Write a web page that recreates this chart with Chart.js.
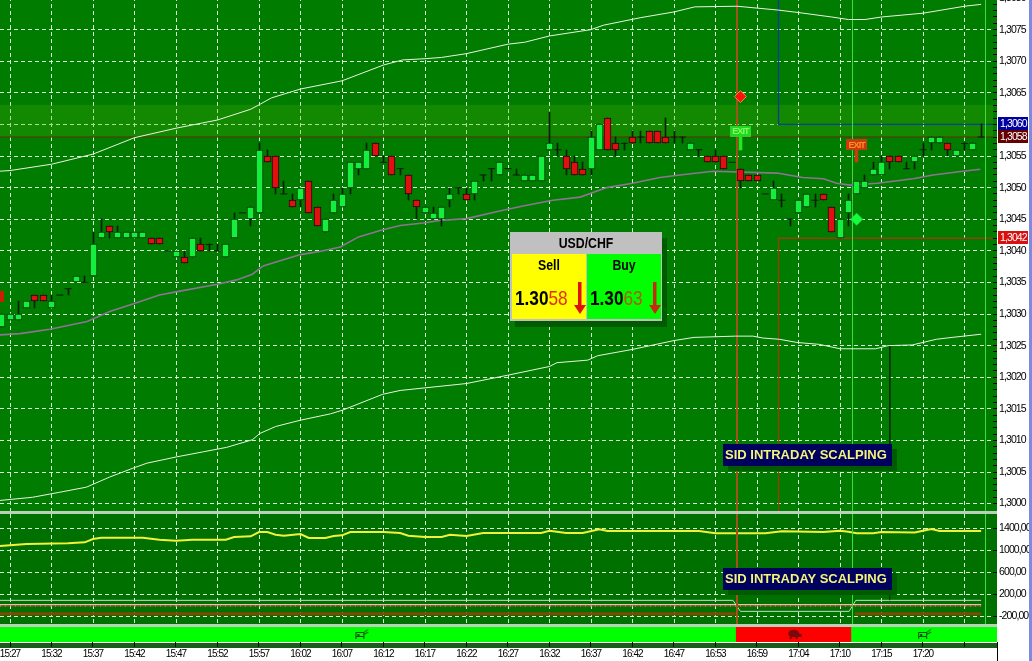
<!DOCTYPE html>
<html>
<head>
<meta charset="utf-8">
<title>USD/CHF</title>
<script src="https://cdn.jsdelivr.net/npm/chart.js@4/dist/chart.umd.min.js"></script>
<style>
html, body { margin: 0; padding: 0; background: #fff; overflow: hidden; }
#page { position: relative; width: 1032px; height: 661px; overflow: hidden; font-family: "Liberation Sans", sans-serif; }
canvas { position: absolute; left: 0; }
#mainChart { top: -10px; background: linear-gradient(to right, #007c00 997px, #fff 997px); }
#lowerChart { top: 514px; background: linear-gradient(to right, #007000 997px, #fff 997px); }
#signalChart { top: 627px; }
.sep { position: absolute; left: 0; width: 997px; height: 3px; background: #b9d0b9; }
#strip { position: absolute; left: 0; top: 643px; width: 997px; height: 5px; background: #1a5c1a; }
#rightLine { position: absolute; left: 997px; top: 642px; width: 1px; height: 19px; background: #000; }
#edge { position: absolute; left: 1029px; top: 0; width: 3px; height: 661px; background: #7f8ade; }
.sid { position: absolute; left: 723px; width: 169px; height: 22px; line-height: 22px; background: #00005e; color: #f4f47a;
  font: bold 13px/22px "Liberation Sans", sans-serif; text-indent: 2px; box-shadow: 5px 5px 0 #005a00; white-space: nowrap; }
#quote { position: absolute; left: 510px; top: 232px; width: 152px; height: 89px; background: #c0c0c0; box-shadow: 5px 6px 0 #005a00; }
#quote .title { position: absolute; left: 0; top: 1px; width: 152px; height: 20px; text-align: center; font: bold 15px/20px "Liberation Sans", sans-serif; color: #000; transform: scaleX(0.82); }
#quote .side { position: absolute; top: 22px; width: 74px; height: 65px; }
#quote .name { position: absolute; left: 0; top: 2px; width: 100%; text-align: center; font: bold 15px/18px "Liberation Sans", sans-serif; color: #000; transform: scaleX(0.82); }
#quote .px { position: absolute; left: 3px; top: 32px; font: bold 21px/24px "Liberation Sans", sans-serif; color: #000; white-space: nowrap; transform: scaleX(0.82); transform-origin: left center; }
#quote .px span { font-weight: normal; color: #e03010; }
#quote svg { position: absolute; left: 62px; top: 27px; }
</style>
</head>
<body>
<div id="page">
  <canvas id="mainChart" width="1032" height="521"></canvas>
  <div class="sep" style="top:511px"></div>
  <canvas id="lowerChart" width="1032" height="110"></canvas>
  <div class="sep" style="top:624px"></div>
  <div id="strip"></div>
  <canvas id="signalChart" width="1032" height="34"></canvas>
  <div id="rightLine"></div>
  <div id="quote">
    <div class="title">USD/CHF</div>
    <div class="side" style="left:2px;background:#ffff00">
      <div class="name">Sell</div>
      <div class="px">1.30<span>58</span></div>
      <svg width="12" height="34"><path d="M4 1h3.5v23H12l-6 9-6-9h4z" fill="#e01010"/></svg>
    </div>
    <div class="side" style="left:77px;background:#00ff00">
      <div class="name">Buy</div>
      <div class="px">1.30<span style="color:#b05a10">63</span></div>
      <svg width="12" height="34"><path d="M4 1h3.5v23H12l-6 9-6-9h4z" fill="#c82a10"/></svg>
    </div>
  </div>
  <div class="sid" style="top:444px">SID INTRADAY SCALPING</div>
  <div class="sid" style="top:568px">SID INTRADAY SCALPING</div>
  <div id="edge"></div>
</div>
<script>
/* ---------------- DATA ---------------- */

// candles, in pips above 1.3000, first candle is bar -1
const firstBar = -1;
const opens = [
    28,29,29,31,33,33,31,33,34,35,
    35,36,42,44,42,42,42,42,42,42,
    40,39,39,39,41,41,40,39,42,46,
    45,46,55,55,49,48,48,51,47,43,
    46,47,50,53,53,57,54,55,53,52,
    48,46,45,45,48,50,49,49,52,53,
    52,53,52,51,51,51,56,56,55,54,
    53,53,56,61,57,57,58,58,59,59,
    58,58,58,56,56,55,55,55,54,53,
    52,52,49,48,48,45,46,47,48,49,
    47,42,46,49,50,52,52,55,55,53,
    54,56,57,57,57,55,57,56,58
];
const highs = [
    30,30,32,32,33,33,33,33,34,36,
    36,43,45,44,44,43,43,43,42,42,
    40,40,40,42,42,41,41,41,46,46,
    47,57,56,55,51,49,50,51,47,45,
    49,50,54,54,57,57,55,55,53,52,
    48,47,47,47,50,50,50,51,52,53,
    54,53,53,52,52,55,62,57,56,55,
    54,59,60,61,58,57,59,59,59,59,
    61,59,58,57,56,55,56,55,54,53,
    52,52,49,51,49,45,48,49,49,49,
    47,45,49,51,52,54,55,55,55,54,
    55,57,58,58,57,56,57,57,60
];
const lows = [
    28,29,29,31,31,32,31,33,33,35,
    35,36,42,42,42,42,42,42,41,41,
    40,39,38,39,40,40,40,39,42,46,
    44,46,54,49,49,47,47,46,44,43,
    46,47,49,52,53,55,54,52,52,48,
    45,46,45,44,47,49,48,48,51,51,
    52,53,52,51,51,51,56,55,52,52,
    52,52,56,56,55,56,57,57,57,57,
    57,57,57,56,55,54,54,53,54,50,
    51,51,49,48,47,44,46,47,47,48,
    43,42,44,49,50,52,52,53,54,53,
    53,55,56,57,55,55,56,56,58
];
const closes = [
    30,30,30,32,32,32,32,33,34,36,
    35,41,43,43,43,43,43,43,41,41,
    40,40,38,42,40,41,40,41,45,46,
    47,56,54,50,49,47,50,46,44,45,
    48,49,54,54,56,55,54,52,53,49,
    47,47,46,47,49,50,48,51,52,53,
    54,53,52,52,52,55,57,56,53,52,
    52,58,60,56,56,57,57,58,57,57,
    57,58,58,57,56,54,54,53,54,51,
    51,51,49,50,48,45,48,49,48,48,
    43,45,48,51,51,53,54,54,54,53,
    55,56,58,58,56,56,57,57,58
];

// upper band
const upperBars = [-1.2,0,5,10,15,20,25,29,30,31.5,35,40,45,47.3,50,52,55,60,62,65,70,71.5,76,80,82.5,87.6,92.5,95,99,101,103,105,110,115,117];
const upperVals = [1.30526,1.30527,1.30537,1.30553,1.30579,1.30594,1.30607,1.30624,1.30631,1.30642,1.30656,1.30669,1.30694,1.30702,1.30704,1.30706,1.30712,1.30727,1.30730,1.30740,1.30750,1.30757,1.30769,1.30778,1.30786,1.30787,1.30781,1.30777,1.30770,1.30766,1.30766,1.30770,1.30776,1.30787,1.30790];

// middle average
const midBars = [-1.2,1.2,4.8,9.3,12,14.8,18,20,25,27.3,29.2,30.5,35,37.3,39.8,42,44.6,47,49.8,51.8,55,59,61.8,65.4,68.7,71.9,75,78.3,80.7,84.7,92.4,95.5,98,99.6,101.2,104.5,108.8,111.2,114.8,116.9];
const midVals = [1.30267,1.30269,1.30276,1.30288,1.30304,1.30316,1.30330,1.30335,1.30347,1.30354,1.30363,1.30376,1.30394,1.30399,1.30406,1.30422,1.30432,1.30440,1.30444,1.30448,1.30451,1.30463,1.30471,1.30480,1.30485,1.30500,1.30507,1.30516,1.30520,1.30526,1.30523,1.30516,1.30514,1.30507,1.30504,1.30507,1.30514,1.30520,1.30526,1.30529];

// lower band
const lowerBars = [-1.2,2.7,6,9.2,12,14.8,16.5,20.1,23.3,26.1,29.2,30.1,32,35,38.6,40.1,44.9,47,55,59.9,65,65.9,69.6,70.8,75,80,82.4,87.4,89.5,90.7,92.7,94.8,97.5,100,104.3,105.8,108.7,111.6,113.5,117];
const lowerVals = [1.30005,1.30010,1.30018,1.30026,1.30042,1.30056,1.30064,1.30074,1.30082,1.30089,1.30101,1.30111,1.30122,1.30132,1.30142,1.30148,1.30173,1.30179,1.30190,1.30203,1.30217,1.30223,1.30227,1.30234,1.30244,1.30258,1.30263,1.30265,1.30265,1.30262,1.30260,1.30255,1.30252,1.30245,1.30245,1.30250,1.30251,1.30260,1.30263,1.30268];

// lower panel
const volumeBars = [-1.2,2,7,9,10,11,16,18,20,22,26,27,29,30,31,32,33,35,36,38,39,40,41,45,47,48,50,52,53,55,57,64,65,67,69,71,72,83,85,91,93,98,100,101,102,104,105,109,110,111,112,117];
const volumeVals = [1073,1109,1122,1140,1200,1224,1224,1187,1169,1187,1187,1236,1249,1327,1327,1278,1260,1291,1218,1218,1255,1267,1327,1327,1309,1260,1236,1236,1278,1255,1309,1309,1351,1309,1309,1376,1345,1345,1304,1304,1340,1327,1351,1330,1304,1304,1327,1320,1351,1382,1345,1345];
const stepBars = [-1.2,87.1,88,101.1,101.9,117];
const stepVals = [85,85,-115,-115,85,85];
const brownBars = [-1.2,87.4,87.5,101.7,101.8,117];
const brownVals = [-158,-158,null,null,-158,-158];

// x axis
const tickBars = [0,5,10,15,20,25,30,35,40,45,50,55,60,65,70,75,80,85,90,95,100,105,110,115];
const tickLabels = ["15:27","15:32","15:37","15:42","15:47","15:52","15:57","16:02","16:07","16:12","16:17","16:22","16:27","16:32","16:37","16:42","16:47","16:53","16:59","17:04","17:10","17:15","17:20",""];

// y axes
const priceLabelPips = [0,5,10,15,20,25,30,35,40,45,50,55,60,65,70,75,80];
const volumeTicks = [1400,1000,600,200,-200];

// marked levels and bars
const bandLevels = [1.30581, 1.30631];
const levelEntry = 1.3058;
const levelBlue = 1.3060;
const levelRed = 1.3042;
const axisMarks = [1.3060, 1.3058, 1.3042];
const axisMarkColors = ["#0000a0", "#650000", "#d81010"];
const redLineBar = 87.59;
const boxLineBar = 92.59;
const greenLineBars = [101.506, 117.53];
const noteBar = 106;
const noteVals = [1.30251, 1.30053];
const diamondRed = [88, 1.30644];
const diamondGreen = [102, 1.30450];
const flags = [
    { bar: 88, price: 1.30589, text: "EXIT", fill: "#22d822", color: "#80ff60" },
    { bar: 102, price: 1.30568, text: "EXIT", fill: "#c83a10", color: "#ff9020" },
    { bar: -2, price: 1.30328, text: "", fill: "#c82000", color: "#ff9020" }
];
const flagStems = [[88, 56, 58, "#22e822"], [102, 54, 56, "#c83a10"]];

// signal bar
const signalStarts = [-1.3, 87.5, 101.4];
const signalEnds = [87.5, 101.4, 119];
const signalColors = ["#00ff00", "#ff0000", "#00ff00"];
const bullBars = [42.4, 110.2];
const bearBars = [94.6];

/* ---------------- SETUP ---------------- */

const BASE = 1.3;
const PIP = 0.0001;
const X_MIN = -1.205, X_MAX = 118.43;
const Y_TOP = 1.308127, Y_BOTTOM = 1.299883;
const V_TOP = 1654.5, V_BOTTOM = -345;
const GRID = "#d8f4d8";
const FONT = "'Liberation Sans', sans-serif";

const toPrice = pips => BASE + pips * PIP;
const zip = (xs, ys) => xs.map((x, i) => ({ x: x, y: ys[i] }));
const isMajorPrice = v => Math.round((v - BASE) / PIP) % 5 === 0;

// every pip gets a small tick mark on the right axis
const priceTicks = [];
for (let p = 0; p <= 81; p++) priceTicks.push(toPrice(p));

function line(data, color, width, extra) {
    return Object.assign({ type: "line", data: data, borderColor: color, borderWidth: width, pointRadius: 0, tension: 0, fill: false, order: 5 }, extra || {});
}

// candle bodies, wicks and dashes
const wicks = [], greenBodies = [], redBodies = [], dashes = [];
opens.forEach((o, i) => {
    const bar = firstBar + i;
    const c = closes[i];
    if (highs[i] > lows[i]) wicks.push({ x: bar, y: [toPrice(lows[i]), toPrice(highs[i])] });
    if (o === c) dashes.push({ x: bar, y: toPrice(o) });
    else if (c > o) greenBodies.push({ x: bar, y: [toPrice(o), toPrice(c)] });
    else redBodies.push({ x: bar, y: [toPrice(c), toPrice(o)] });
});

// snap bars to whole pixels so the candles stay crisp
const snapBars = {
    id: "snapBars",
    afterDatasetsUpdate(chart) {
        chart.data.datasets.forEach((ds, i) => {
            if (ds.type !== "bar") return;
            chart.getDatasetMeta(i).data.forEach(el => {
                if (!(ds.barThickness > 0)) return;
                el.x = ds.barThickness % 2 ? Math.floor(el.x) + 0.5 : Math.round(el.x);
                el.y = Math.round(el.y);
                el.base = Math.round(el.base);
            });
        });
    }
};

// the labels in the reference are narrow, no narrow face is installed
const tightText = {
    id: "tightText",
    beforeDraw(chart) { chart.ctx.letterSpacing = "-0.9px"; }
};

// small labels: flags on the chart and value boxes on the axis
const labelsPlugin = {
    id: "labelsPlugin",
    afterDraw(chart) {
        const ctx = chart.ctx;
        const x = chart.scales.x, y = chart.scales.y;
        ctx.save();
        flags.forEach(f => {
            const cx = x.getPixelForValue(f.bar), cy = y.getPixelForValue(f.price);
            ctx.fillStyle = f.fill;
            ctx.fillRect(Math.round(cx - 10.5), Math.round(cy - 5.5), 21, 11);
            ctx.fillStyle = f.color;
            ctx.font = "bold 9px " + FONT;
            ctx.textAlign = "center";
            ctx.textBaseline = "middle";
            ctx.fillText(f.text, cx, cy + 0.5);
        });
        axisMarks.forEach((v, i) => {
            const cy = Math.round(y.getPixelForValue(v));
            ctx.fillStyle = axisMarkColors[i];
            ctx.fillRect(998, cy - 7, 30, 13);
            ctx.fillStyle = "#fff";
            ctx.font = "10.5px " + FONT;
            ctx.textAlign = "left";
            ctx.textBaseline = "middle";
            ctx.fillText(v.toFixed(4).replace(".", ","), 1000, cy);
        });
        ctx.restore();
    }
};

// label overhang would shrink the plot, the panels have to line up exactly
function noPadding(s) {
    s.paddingTop = 0;
    s.paddingBottom = 0;
    s.paddingLeft = 0;
    s.paddingRight = 0;
    s._margins = { left: 0, right: 0, top: 0, bottom: 0 };
}

function xScale(max, withLabels) {
    return {
        type: "linear",
        min: X_MIN,
        max: max,
        offset: false,
        afterBuildTicks: s => { s.ticks = tickBars.map(v => ({ value: v })); },
        afterFit: s => { noPadding(s); s.height = withLabels ? 19 : 0; },
        border: { display: false, dash: withLabels ? [] : [4, 3] },
        grid: withLabels
            ? { offset: false, drawOnChartArea: false, tickLength: 5, tickColor: "#000" }
            : { offset: false, color: GRID, drawTicks: false, lineWidth: 1 },
        ticks: withLabels
            ? { autoSkip: false, maxRotation: 0, padding: 1, color: "#000", font: { family: FONT, size: 10 }, callback: (v, i) => tickLabels[i] }
            : { display: false }
    };
}

function cowIcon(color) {
    const c = document.createElement("canvas");
    c.width = 15; c.height = 11;
    const g = c.getContext("2d");
    g.strokeStyle = color;
    g.fillStyle = color;
    g.lineWidth = 1;
    g.beginPath();
    g.rect(1.5, 3.5, 8, 4);
    g.moveTo(1.5, 3.5); g.lineTo(1.5, 10);
    g.moveTo(9.5, 7.5); g.lineTo(9.5, 10);
    g.moveTo(9.5, 3.5); g.lineTo(13.5, 0.5);
    g.moveTo(9.5, 5.5); g.lineTo(14, 3);
    g.stroke();
    g.fillRect(3, 5, 2, 2);
    return c;
}

function bearIcon(color) {
    const c = document.createElement("canvas");
    c.width = 15; c.height = 11;
    const g = c.getContext("2d");
    g.fillStyle = color;
    g.beginPath();
    g.ellipse(6, 4.5, 5.5, 3.8, 0, 0, Math.PI * 2);
    g.fill();
    g.fillRect(9, 5, 5, 3);
    g.fillRect(2, 7, 2, 3);
    g.fillRect(8, 7, 2, 3);
    return c;
}

/* ---------------- MAIN PRICE PANEL ---------------- */

new Chart(document.getElementById("mainChart"), {
    type: "bar",
    data: {
        datasets: [
            line(zip([X_MIN, X_MAX], [bandLevels[1], bandLevels[1]]), "transparent", 0, { fill: { value: bandLevels[0] }, backgroundColor: "rgba(60,170,0,0.3)", order: 9 }),
            line(zip([X_MIN, X_MAX], [levelEntry, levelEntry]), "#6b2e00", 1, { order: 8 }),
            line(zip([redLineBar, redLineBar], [Y_BOTTOM, Y_TOP]), "#a3521a", 2, { order: 7 }),
            line(zip(greenLineBars.slice(0, 1).concat(greenLineBars.slice(0, 1)), [Y_BOTTOM, Y_TOP]), "#3ce03c", 1, { order: 7 }),
            line(zip(greenLineBars.slice(1).concat(greenLineBars.slice(1)), [Y_BOTTOM, Y_TOP]), "#3ce03c", 1, { order: 7 }),
            line(zip([boxLineBar, boxLineBar, X_MAX], [Y_TOP, levelBlue, levelBlue]), "#0b3f8c", 1.4, { order: 7 }),
            line(zip([boxLineBar, boxLineBar, X_MAX], [Y_BOTTOM, levelRed, levelRed]), "#93400a", 1.4, { order: 7 }),
            line(zip(upperBars, upperVals), "#e6f5e0", 1),
            line(zip(lowerBars, lowerVals), "#e6f5e0", 1),
            line(zip(midBars, midVals), "#8d7492", 1.6),
            line(zip([noteBar, noteBar], noteVals), "#0a2a0a", 1),
            { type: "bar", data: wicks, backgroundColor: "#0a1e0a", barThickness: 1, grouped: false, order: 3 },
            { type: "bar", data: greenBodies, backgroundColor: "#14ee3c", borderColor: "#0a3a0a", borderWidth: 1, borderSkipped: false, barThickness: 7, grouped: false, order: 2 },
            { type: "bar", data: redBodies, backgroundColor: "#e01010", borderColor: "#1a0a0a", borderWidth: 1, borderSkipped: false, barThickness: 7, grouped: false, order: 2 },
            { type: "scatter", data: dashes, pointStyle: "line", pointRadius: 3.5, borderColor: "#0a1e0a", borderWidth: 1, order: 2 },
            { type: "bar", data: flagStems.map(s => ({ x: s[0], y: [toPrice(s[1]), toPrice(s[2])] })), backgroundColor: flagStems.map(s => s[3]), barThickness: 3, grouped: false, order: 1 },
            { type: "scatter", data: [{ x: diamondRed[0], y: diamondRed[1] }], pointStyle: "rectRot", pointRadius: 6, backgroundColor: "#ff1010", borderColor: "#d8a020", borderWidth: 1, order: 1 },
            { type: "scatter", data: [{ x: diamondGreen[0], y: diamondGreen[1] }], pointStyle: "rectRot", pointRadius: 6, backgroundColor: "#10ff40", borderColor: "#30d030", borderWidth: 1, order: 1 }
        ]
    },
    options: {
        responsive: false,
        animation: false,
        events: [],
        layout: { padding: 0, autoPadding: false },
        plugins: { legend: { display: false }, tooltip: { enabled: false } },
        scales: {
            x: xScale(X_MAX, false),
            y: {
                type: "linear",
                position: "right",
                min: Y_BOTTOM,
                max: Y_TOP,
                afterFit: s => { noPadding(s); s.width = 39; },
                afterBuildTicks: s => { s.ticks = priceTicks.map(v => ({ value: v })); },
                border: { display: false, dash: [4, 3] },
                grid: { color: c => isMajorPrice(c.tick.value) ? GRID : "transparent", tickColor: "#000", tickLength: 4, tickBorderDash: [] },
                ticks: {
                    autoSkip: false,
                    padding: 2,
                    color: "#000",
                    font: { family: FONT, size: 10.5 },
                    callback: v => priceLabelPips.includes(Math.round((v - BASE) / PIP)) ? v.toFixed(4).replace(".", ",") : ""
                }
            }
        }
    },
    plugins: [tightText, snapBars, labelsPlugin]
});

/* ---------------- LOWER PANEL ---------------- */

new Chart(document.getElementById("lowerChart"), {
    type: "line",
    data: {
        datasets: [
            line(zip([redLineBar, redLineBar], [V_BOTTOM, V_TOP]), "#a3521a", 2),
            line(zip(greenLineBars.slice(0, 1).concat(greenLineBars.slice(0, 1)), [V_BOTTOM, V_TOP]), "#3ce03c", 1),
            line(zip(greenLineBars.slice(1).concat(greenLineBars.slice(1)), [V_BOTTOM, V_TOP]), "#3ce03c", 1),
            line(zip([noteBar, noteBar], [86, 200]), "#0a2a0a", 1),
            line(zip([X_MIN, 117], [-15, -15]), "#c8402a", 1),
            line(zip([X_MIN, 117], [5, 5]), "#fff0e0", 1),
            line(zip([X_MIN, 117], [-15, -15]), "#ffffff", 1, { borderDash: [1, 4] }),
            line(zip(brownBars, brownVals), "#7c4a00", 3, { spanGaps: false }),
            line(zip(stepBars, stepVals), "#c4dcc4", 1),
            line(zip(volumeBars, volumeVals), "#f2f23a", 2)
        ]
    },
    options: {
        responsive: false,
        animation: false,
        events: [],
        layout: { padding: 0, autoPadding: false },
        plugins: { legend: { display: false }, tooltip: { enabled: false } },
        scales: {
            x: xScale(X_MAX, false),
            y: {
                type: "linear",
                position: "right",
                min: V_BOTTOM,
                max: V_TOP,
                afterFit: s => { noPadding(s); s.width = 39; },
                afterBuildTicks: s => { s.ticks = volumeTicks.map(v => ({ value: v })); },
                border: { display: false, dash: [4, 3] },
                grid: { color: GRID, tickColor: "#000", tickLength: 4, tickBorderDash: [] },
                ticks: {
                    autoSkip: false,
                    padding: 2,
                    color: "#000",
                    font: { family: FONT, size: 10.5 },
                    callback: v => v.toFixed(2).replace(".", ",")
                }
            }
        }
    },
    plugins: [tightText]
});

/* ---------------- SIGNAL BAR AND TIME AXIS ---------------- */

new Chart(document.getElementById("signalChart"), {
    type: "bar",
    data: {
        datasets: [
            {
                type: "scatter",
                data: bullBars.map(b => ({ x: b, y: 0.5 })),
                pointStyle: cowIcon("#0a4a0a"),
                order: 1
            },
            {
                type: "scatter",
                data: bearBars.map(b => ({ x: b, y: 0.5 })),
                pointStyle: bearIcon("#7a0a0a"),
                order: 1
            },
            {
                type: "bar",
                indexAxis: "y",
                data: signalStarts.map((s, i) => ({ y: 0.5, x: [s, signalEnds[i]] })),
                backgroundColor: signalColors,
                barThickness: 15,
                grouped: false,
                order: 2
            }
        ]
    },
    options: {
        responsive: false,
        animation: false,
        events: [],
        layout: { padding: { left: 0, right: 35, top: 0, bottom: 0 }, autoPadding: false },
        plugins: { legend: { display: false }, tooltip: { enabled: false } },
        scales: {
            x: xScale(118.92, true),
            y: { type: "linear", display: false, min: 0, max: 1, offset: false }
        }
    },
    plugins: [tightText]
});
</script>
</body>
</html>
